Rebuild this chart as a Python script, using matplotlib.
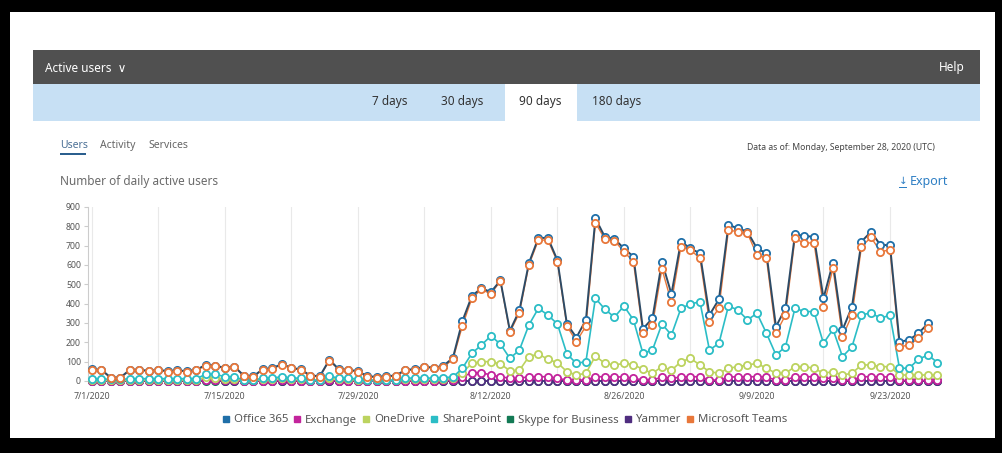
"""
Active users dashboard - number of daily active users (90 days)
"""

import numpy as np
import matplotlib.pyplot as plt
from matplotlib.patches import Rectangle
from matplotlib.lines import Line2D

plt.rcParams['font.family'] = ['Noto Sans', 'DejaVu Sans']

# ---- data, day 0 = 7/1/2020 ----
tick_days = [0, 14, 28, 42, 56, 70, 84]
tick_labels = ['7/1/2020', '7/15/2020', '7/29/2020', '8/12/2020',
               '8/26/2020', '9/9/2020', '9/23/2020']
y_ticks = [0, 100, 200, 300, 400, 500, 600, 700, 800, 900]

teams = [57, 55, 15, 15, 55, 55, 50, 55, 48, 52, 48, 55, 80, 76, 65, 72, 25, 22,
         58, 63, 85, 65, 57, 25, 22, 105, 58, 55, 48, 22, 18, 22, 25, 55, 58, 72,
         65, 72, 112,
         285, 428, 474, 450, 517, 252, 353, 600, 729, 729, 617, 284, 204, 284,
         819, 733, 726, 669, 617, 250, 290, 580, 407, 695, 678, 635, 307, 376,
         781, 772, 764, 652, 635, 247, 341, 738, 712, 716, 384, 583, 229, 341,
         695, 743, 669, 678, 177, 186, 221, 273, np.nan]
office365 = [60, 58, 18, 18, 58, 58, 53, 58, 51, 55, 51, 58, 84, 80, 68, 75, 28, 25,
             61, 66, 88, 68, 60, 28, 25, 110, 61, 58, 51, 25, 21, 25, 28, 58, 61, 75,
             68, 79, 119,
             310, 440, 480, 460, 520, 260, 365, 610, 740, 740, 625, 295, 225, 316,
             841, 745, 735, 686, 643, 270, 324, 617, 450, 721, 686, 660, 341, 423,
             807, 790, 772, 686, 660, 281, 376, 759, 750, 746, 428, 612, 264, 384,
             721, 772, 703, 703, 203, 212, 247, 298, np.nan]
sharepoint = [12, 12, 8, 8, 12, 12, 12, 12, 12, 12, 12, 12, 35, 35, 22, 22, 5, 5,
              15, 15, 22, 15, 15, 5, 5, 25, 15, 15, 10, 5, 5, 5, 5, 15, 15, 15,
              15, 18, 20,
              66, 143, 186, 233, 191, 117, 160, 290, 376, 341, 295, 140, 91, 100,
              428, 371, 330, 388, 316, 143, 160, 295, 238, 376, 398, 410, 160, 195,
              388, 367, 316, 350, 247, 135, 177, 376, 359, 359, 195, 267, 126, 177,
              341, 353, 324, 341, 66, 66, 112, 135, 95]
onedrive = [5, 5, 3, 3, 5, 5, 5, 5, 5, 5, 5, 5, 20, 18, 10, 12, 3, 3,
            8, 8, 15, 8, 8, 3, 3, 15, 8, 8, 5, 3, 3, 3, 3, 8, 8, 10,
            10, 12, 15,
            43, 91, 100, 100, 88, 53, 55, 126, 140, 112, 95, 48, 31, 40,
            129, 91, 83, 91, 85, 60, 40, 74, 55, 100, 117, 83, 48, 40,
            66, 74, 83, 91, 66, 40, 40, 74, 74, 66, 40, 48, 31, 40,
            83, 83, 74, 74, 31, 31, 31, 31, 31]
exchange = [2, 2, 0, 0, 2, 2, 2, 2, 2, 2, 2, 2, 5, 5, 3, 3, 0, 0,
            2, 2, 3, 2, 2, 0, 0, 3, 2, 2, 2, 0, 0, 0, 0, 2, 2, 2,
            2, 3, 5,
            22, 43, 43, 31, 22, 14, 14, 22, 22, 22, 14, 5, 5, 5,
            22, 22, 22, 20, 14, 5, 5, 20, 14, 20, 22, 22, 5, 5,
            20, 22, 22, 22, 20, 5, 5, 22, 22, 22, 14, 14, 3, 5,
            22, 22, 22, 20, 3, 3, 3, 3, 3]
skype = [0] * 90
yammer = [0, 0, 0, 0, 0, 0, 0, 0, 0, 0, 0, 0, 3, 3, 0, 0, 0, 0,
          0, 0, 0, 0, 0, 0, 0, 0, 0, 0, 0, 0, 0, 0, 0, 0, 0, 0,
          0, 0, 0] + [0] * 51

days = np.arange(len(teams))

series = [
    ('Office 365', office365, '#1f6fa8'),
    ('Exchange', exchange, '#c3249c'),
    ('OneDrive', onedrive, '#bcd35f'),
    ('SharePoint', sharepoint, '#2bbdc6'),
    ('Skype for Business', skype, '#137a55'),
    ('Yammer', yammer, '#4f2d7f'),
    ('Microsoft Teams', teams, '#e8773a'),
]

W, H = 1003, 453
fig = plt.figure(figsize=(W / 100, H / 100), dpi=100)
fig.patch.set_facecolor('black')


def rect(x0, y0, x1, y1, color, z=0):
    # pixel box (top-left origin) -> figure fraction rectangle
    fig.add_artist(Rectangle((x0 / W, 1 - y1 / H), (x1 - x0) / W, (y1 - y0) / H,
                             transform=fig.transFigure, color=color, zorder=z,
                             lw=0))


def label(x, y, s, **kw):
    fig.text(x / W, 1 - y / H, s, va='center', **kw)


# page background and header bars
rect(10, 12, 995, 438, 'white')
rect(33, 50, 980, 84, '#505050', 1)
rect(33, 84, 980, 121, '#c7e0f4', 1)
rect(505, 84, 577, 121, 'white', 2)

label(45, 68, 'Active users  \u2228', color='white', fontsize=8.5, zorder=3)
label(965, 68, 'Help', color='white', fontsize=8.5, ha='right',
      fontweight='bold', zorder=3)
for x, s in [(390, '7 days'), (462, '30 days'), (540, '90 days'), (617, '180 days')]:
    label(x, 101, s, color='#333333', fontsize=8.5, ha='center', zorder=3)

label(60, 145, 'Users', color='#4a6f95', fontsize=7.5)
label(100, 145, 'Activity', color='#666666', fontsize=7.5)
label(148, 145, 'Services', color='#666666', fontsize=7.5)
rect(60, 153, 86, 155, '#2b5f8e', 3)
label(935, 147, 'Data as of: Monday, September 28, 2020 (UTC)', color='#444444',
      fontsize=6.2, ha='right')
label(60, 182, 'Number of daily active users', color='#6b6b6b', fontsize=8.5)
label(948, 182, 'Export', color='#2e7fc4', fontsize=9, ha='right')
# download icon (arrow onto a bar)
label(903, 181, '\u2193', color='#2e7fc4', fontsize=7.5, ha='center',
      family=['DejaVu Sans'])
rect(899, 187, 907, 188, '#2e7fc4', 3)

# ---- chart ----
ax = fig.add_axes([88 / W, 1 - 381 / H, (947 - 88) / W, (381 - 207) / H])
ax.set_facecolor('white')

for name, vals, color in series[4:6]:
    ax.plot(days, vals, color=color, lw=1.2, marker='o', ms=5.2, mfc='white',
            mec=color, mew=1.3, clip_on=False, zorder=2)
for name, vals, color in series[1:4]:
    ax.plot(days, vals, color=color, lw=1.2, marker='o', ms=5.2, mfc='white',
            mec=color, mew=1.3, clip_on=False, zorder=3)

ax.plot(days, teams, color='#e8773a', lw=1.0, clip_on=False, zorder=4)
ax.plot(days, office365, color='#2d4b66', lw=1.4, marker='o', ms=5.2,
        mfc='white', mec='#1f6fa8', mew=1.3, clip_on=False, zorder=5)
ax.plot(days, teams, ls='none', marker='o', ms=5.2, mfc='white',
        mec='#e8773a', mew=1.3, clip_on=False, zorder=6)

ax.set_xlim(-0.4, 90)
ax.set_ylim(0, 900)
ax.set_yticks(y_ticks)
ax.set_xticks(tick_days)
ax.set_xticklabels(tick_labels)
ax.set_xticks(np.arange(0, 90, 7), minor=True)
ax.grid(axis='x', which='both', color='#e9e9e9', lw=0.8)
ax.tick_params(axis='y', labelsize=6.3, colors='#cccccc', labelcolor='#555555',
               length=3, pad=2)
ax.tick_params(axis='x', which='both', length=0, labelsize=6.3,
               labelcolor='#555555', pad=8)
for side in ['top', 'right', 'bottom']:
    ax.spines[side].set_visible(False)
ax.spines['left'].set_color('#cccccc')

handles = [Line2D([], [], ls='none', marker='s', ms=5, color=c) for _, _, c in series]
fig.legend(handles, [n for n, _, _ in series], loc='center',
           bbox_to_anchor=(505 / W, 1 - 420 / H), ncol=7, frameon=False,
           fontsize=8.2, labelcolor='#555555', handlelength=0.6,
           handletextpad=0.4, columnspacing=0.5, borderaxespad=0)

fig.savefig('out.png', dpi=100, facecolor='black')
